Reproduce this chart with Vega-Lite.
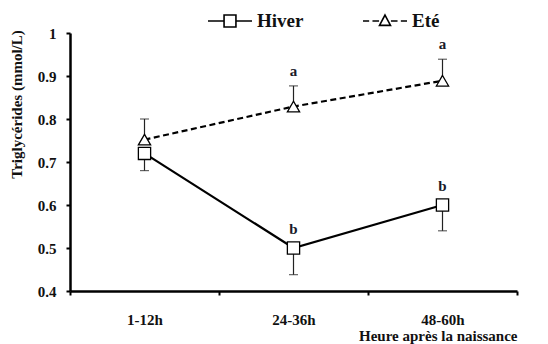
{
  "$schema": "https://vega.github.io/schema/vega-lite/v6.json",
  "autosize": {"type": "none"},
  "padding": {"left": 70, "top": 33, "right": 31, "bottom": 53},
  "width": 447,
  "height": 258,
  "background": "white",
  "config": {
    "view": {"stroke": null},
    "font": "Liberation Serif"
  },
  "data": {
    "values": [
      {"heure": "1-12h", "saison": "Hiver", "val": 0.72, "lo": 0.68, "hi": 0.72, "lettre": ""},
      {"heure": "24-36h", "saison": "Hiver", "val": 0.50, "lo": 0.438, "hi": 0.50, "lettre": "b"},
      {"heure": "48-60h", "saison": "Hiver", "val": 0.60, "lo": 0.54, "hi": 0.60, "lettre": "b"},
      {"heure": "1-12h", "saison": "Eté", "val": 0.752, "lo": 0.752, "hi": 0.80, "lettre": ""},
      {"heure": "24-36h", "saison": "Eté", "val": 0.829, "lo": 0.829, "hi": 0.877, "lettre": "a"},
      {"heure": "48-60h", "saison": "Eté", "val": 0.889, "lo": 0.889, "hi": 0.939, "lettre": "a"}
    ]
  },
  "encoding": {
    "x": {
      "field": "heure", "type": "nominal", "sort": ["1-12h", "24-36h", "48-60h"],
      "scale": {"paddingInner": 0, "paddingOuter": 0},
      "axis": {
        "title": "Heure après la naissance",
        "titleFont": "Liberation Serif", "titleFontSize": 15, "titleFontWeight": "bold", "titleColor": "#111",
        "titleAlign": "right", "titleAnchor": "end", "titleX": 447, "titleY": 44, "titleBaseline": "middle",
        "labelAngle": 0, "labelFont": "Liberation Serif", "labelFontSize": 15, "labelFontWeight": "bold", "labelColor": "#111",
        "labelPadding": 17, "tickBand": "extent", "tickSize": 4, "tickWidth": 2, "tickColor": "black",
        "domainColor": "black", "domainWidth": 2.5, "grid": false
      }
    }
  },
  "layer": [
    {
      "transform": [{"filter": "datum.saison === 'Hiver'"}],
      "mark": {"type": "line", "color": "black", "strokeWidth": 2.2},
      "encoding": {
        "y": {
          "field": "val", "type": "quantitative",
          "scale": {"domain": [0.4, 1], "nice": false, "zero": false},
          "axis": {
            "title": "Triglycérides (mmol/L)",
            "titleFont": "Liberation Serif", "titleFontSize": 15, "titleFontWeight": "bold", "titleColor": "#111",
            "titleX": -54, "titleY": 71, "titleAngle": -90, "titleAlign": "center", "titleBaseline": "middle",
            "values": [0.4, 0.5, 0.6, 0.7, 0.8, 0.9, 1],
            "format": "~g",
            "labelFont": "Liberation Serif", "labelFontSize": 15, "labelFontWeight": "bold", "labelColor": "#111",
            "labelPadding": 10, "tickSize": 4, "tickWidth": 2, "tickColor": "black",
            "domainColor": "black", "domainWidth": 2.5, "grid": false
          }
        }
      }
    },
    {
      "transform": [{"filter": "datum.saison === 'Eté'"}],
      "mark": {"type": "line", "color": "black", "strokeWidth": 2.2, "strokeDash": [6, 3.5]},
      "encoding": {
        "y": {"field": "val", "type": "quantitative"}
      }
    },
    {
      "mark": {"type": "point", "filled": false, "color": "black", "strokeWidth": 1.6, "size": 40, "opacity": 1},
      "encoding": {
        "y": {"field": "val", "type": "quantitative"},
        "shape": {
          "field": "saison", "type": "nominal",
          "scale": {
            "domain": ["Hiver", "Eté"],
            "range": [
              "M-1,0H-0.27M0.27,0H1M-0.27,-0.27H0.27V0.27H-0.27Z",
              "M-1,0H-0.72M-0.57,0H-0.27M0.27,0H0.57M0.72,0H1M0,-0.27L0.25,0.2H-0.25Z"
            ]
          },
          "legend": {
            "title": null, "orient": "none", "legendX": 137, "legendY": -35, "direction": "horizontal",
            "symbolSize": 1936, "symbolStrokeWidth": 1.6, "symbolStrokeColor": "black", "symbolOpacity": 1,
            "labelFont": "Liberation Serif", "labelFontSize": 19, "labelFontWeight": "bold", "labelColor": "#111",
            "labelOffset": 4, "columnPadding": 55
          }
        }
      }
    },
    {
      "mark": {"type": "rule", "color": "#222", "strokeWidth": 1.2},
      "encoding": {
        "y": {"field": "lo", "type": "quantitative"},
        "y2": {"field": "hi"}
      }
    },
    {
      "transform": [{"filter": "datum.saison === 'Hiver'"}],
      "mark": {"type": "tick", "color": "#222", "thickness": 1.2, "size": 9},
      "encoding": {"y": {"field": "lo", "type": "quantitative"}}
    },
    {
      "transform": [{"filter": "datum.saison === 'Eté'"}],
      "mark": {"type": "tick", "color": "#222", "thickness": 1.2, "size": 9},
      "encoding": {"y": {"field": "hi", "type": "quantitative"}}
    },
    {
      "transform": [{"filter": "datum.saison === 'Hiver'"}],
      "mark": {"type": "point", "shape": "square", "filled": true, "fill": "white", "stroke": "black", "strokeWidth": 1.3, "opacity": 1, "size": 150},
      "encoding": {"y": {"field": "val", "type": "quantitative"}}
    },
    {
      "transform": [{"filter": "datum.saison === 'Eté'"}],
      "mark": {"type": "point", "shape": "triangle-up", "filled": true, "fill": "white", "stroke": "black", "strokeWidth": 1.3, "opacity": 1, "size": 150},
      "encoding": {"y": {"field": "val", "type": "quantitative"}}
    },
    {
      "transform": [{"filter": "datum.saison === 'Hiver'"}],
      "mark": {"type": "text", "font": "Liberation Serif", "fontSize": 15, "fontWeight": "bold", "color": "#1a1a2a", "baseline": "bottom", "dy": -11},
      "encoding": {
        "y": {"field": "hi", "type": "quantitative"},
        "text": {"field": "lettre"}
      }
    },
    {
      "transform": [{"filter": "datum.saison === 'Eté'"}],
      "mark": {"type": "text", "font": "Liberation Serif", "fontSize": 15, "fontWeight": "bold", "color": "#1a1a2a", "baseline": "bottom", "dy": -7},
      "encoding": {
        "y": {"field": "hi", "type": "quantitative"},
        "text": {"field": "lettre"}
      }
    }
  ]
}
